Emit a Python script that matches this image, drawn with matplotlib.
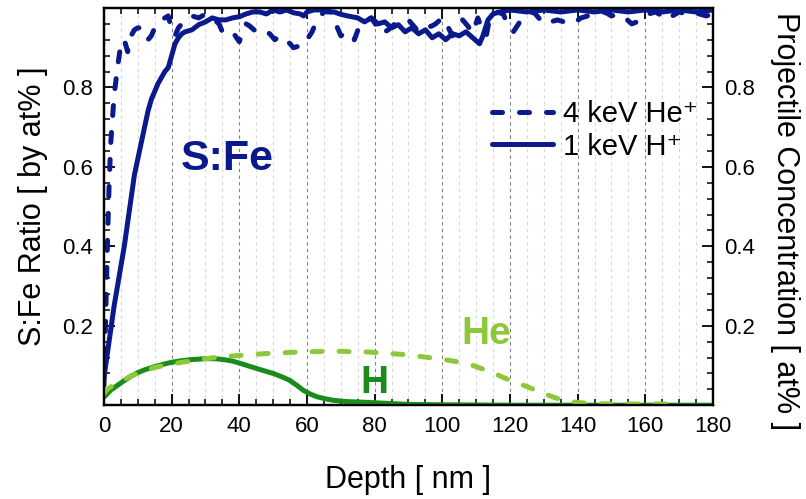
import matplotlib
matplotlib.use("Agg")
import matplotlib.pyplot as plt
from matplotlib.ticker import MultipleLocator, FixedLocator

plt.rcParams['font.family'] = ['Liberation Sans', 'DejaVu Sans']

# ---------------- data ----------------
# S:Fe ratio, 4 keV He+ (dashed navy)
sfe_he_depth = [0, 0.5, 1, 1.5, 2, 3, 4, 5, 6, 7, 8, 9, 10, 11, 12, 13, 14, 15, 16, 17, 18, 19, 20, 21, 22, 24, 26, 28, 30, 32, 34, 35, 36, 38, 40, 41, 42, 43, 45, 47, 49, 50.5, 52, 53, 55, 56, 58, 59, 60, 61.5, 63, 65, 66, 67, 68, 69, 70, 72, 73, 74, 75.5, 77, 79, 81, 82, 84, 86, 88, 90, 91.5, 93, 95, 97, 98, 100, 101.5, 103, 104.5, 106, 107.5, 109, 110.5, 112, 113, 114, 116, 118, 119, 120, 121, 123, 125, 127, 128.5, 130, 132, 134, 136, 138.5, 141, 143, 146, 148, 150, 152, 154, 156, 157.5, 159, 161, 163, 165, 166.5, 168, 170, 172, 174, 176, 178, 180]
sfe_he = [0.05, 0.22, 0.40, 0.55, 0.66, 0.78, 0.85, 0.91, 0.92, 0.89, 0.93, 0.945, 0.95, 0.95, 0.94, 0.92, 0.93, 0.95, 0.96, 0.97, 0.975, 0.98, 0.945, 0.93, 0.95, 0.97, 0.98, 0.975, 0.985, 0.975, 0.96, 0.94, 0.935, 0.94, 0.915, 0.94, 0.96, 0.955, 0.94, 0.945, 0.935, 0.92, 0.93, 0.925, 0.91, 0.90, 0.905, 0.905, 0.92, 0.94, 0.97, 0.99, 0.995, 0.99, 0.97, 0.95, 0.93, 0.94, 0.93, 0.92, 0.955, 0.965, 0.975, 0.95, 0.935, 0.945, 0.96, 0.965, 0.97, 0.955, 0.94, 0.95, 0.955, 0.96, 0.975, 0.955, 0.93, 0.95, 0.97, 0.955, 0.937, 0.975, 0.94, 0.93, 0.975, 0.99, 0.985, 0.965, 0.95, 0.94, 0.966, 0.98, 0.99, 0.975, 0.96, 0.965, 0.97, 0.965, 0.96, 0.975, 0.98, 0.985, 0.99, 0.98, 0.985, 0.975, 0.96, 0.965, 0.97, 0.985, 0.99, 0.98, 0.97, 0.98, 0.99, 0.985, 0.99, 0.985, 0.98, 0.985]

# S:Fe ratio, 1 keV H+ (solid navy)
sfe_h_depth = [0, 1, 2, 3, 4, 5, 6, 7, 8, 9, 10, 11, 12, 13, 14, 15, 16, 17, 18, 19, 20, 21, 22, 23, 24, 26, 28, 30, 32, 34, 36, 38, 40, 42, 44, 46, 48, 50, 52, 54, 56, 58, 59, 60, 62, 64, 66, 68, 70, 72, 75, 77, 79, 81, 83, 85, 87, 89, 91, 93, 95, 97, 99, 101, 103, 105, 107, 109, 111, 112, 113.5, 115, 117, 120, 125, 130, 135, 140, 145, 150, 155, 160, 165, 170, 175, 180]
sfe_h = [0.07, 0.13, 0.19, 0.25, 0.30, 0.35, 0.40, 0.46, 0.52, 0.58, 0.62, 0.66, 0.70, 0.74, 0.77, 0.79, 0.81, 0.825, 0.84, 0.85, 0.88, 0.91, 0.925, 0.935, 0.94, 0.945, 0.958, 0.965, 0.975, 0.97, 0.97, 0.975, 0.978, 0.985, 0.99, 0.99, 0.985, 0.995, 0.99, 0.995, 0.988, 0.985, 0.98, 0.99, 0.995, 0.995, 0.99, 0.99, 0.984, 0.98, 0.975, 0.965, 0.975, 0.96, 0.965, 0.95, 0.958, 0.94, 0.95, 0.935, 0.945, 0.925, 0.935, 0.92, 0.935, 0.93, 0.94, 0.925, 0.91, 0.93, 0.97, 0.985, 0.99, 0.995, 0.99, 0.995, 0.99, 0.995, 0.99, 0.995, 0.99, 0.995, 0.99, 0.995, 0.99, 0.995]

# Projectile concentration, H (solid dark green)
h_depth = [0, 2, 4, 6, 8, 10, 12, 15, 18, 20, 23, 26, 30, 33, 36, 38, 40, 43, 46, 50, 53, 55, 57, 59, 61, 63, 66, 68, 72, 78, 85, 90, 100, 120, 180]
h_conc = [0.02, 0.038, 0.05, 0.062, 0.073, 0.082, 0.089, 0.097, 0.104, 0.108, 0.112, 0.115, 0.117, 0.117, 0.114, 0.111, 0.106, 0.098, 0.09, 0.08, 0.07, 0.062, 0.05, 0.037, 0.028, 0.021, 0.015, 0.012, 0.009, 0.007, 0.004, 0.002, 0.001, 0.0, 0.0]

# Projectile concentration, He (dashed light green)
he_depth = [0, 1, 3, 6, 9, 12, 15, 19, 23, 27, 30, 34, 38, 43, 48, 53, 58, 63, 68, 73, 78, 83, 88, 94, 99, 104, 109, 114, 118, 121, 125, 128, 131, 134, 137, 141, 145, 150, 160, 170]
he_conc = [0.03, 0.04, 0.052, 0.065, 0.077, 0.087, 0.095, 0.102, 0.108, 0.113, 0.117, 0.121, 0.124, 0.127, 0.13, 0.132, 0.134, 0.135, 0.136, 0.135, 0.134, 0.131, 0.128, 0.122, 0.117, 0.11, 0.1, 0.085, 0.07, 0.059, 0.047, 0.036, 0.026, 0.017, 0.01, 0.006, 0.004, 0.003, 0.003, 0.003]

x_ticks = [0, 20, 40, 60, 80, 100, 120, 140, 160, 180]
y_ticks = [0.2, 0.4, 0.6, 0.8]
legend_labels = ['4 keV He⁺', '1 keV H⁺']

NAVY = '#0a1a8c'
DGREEN = '#1b8c1b'
LGREEN = '#8dc83a'

# ---------------- figure ----------------
fig = plt.figure(figsize=(8.06, 4.99), dpi=100)
ax = fig.add_axes([0.129, 0.188, 0.7556, 0.796])
ax2 = ax.twinx()

dash = (2.0, 3.4)
l1, = ax.plot(sfe_he_depth, sfe_he, color=NAVY, lw=3.6, dashes=dash,
              dash_capstyle='round', solid_capstyle='round')
l2, = ax.plot(sfe_h_depth, sfe_h, color=NAVY, lw=3.6, solid_capstyle='round')

ax2.plot(h_depth, h_conc, color=DGREEN, lw=3.6, solid_capstyle='round')
ax2.plot(he_depth, he_conc, color=LGREEN, lw=3.6, dashes=dash, dash_capstyle='round')

for a in (ax, ax2):
    a.set_xlim(0, 180)
    a.set_ylim(0, 1.0)

ax.xaxis.set_major_locator(FixedLocator(x_ticks))
ax.xaxis.set_minor_locator(MultipleLocator(5))
ax.yaxis.set_major_locator(FixedLocator(y_ticks))
ax.yaxis.set_minor_locator(MultipleLocator(0.04))
ax2.yaxis.set_major_locator(FixedLocator(y_ticks))
ax2.yaxis.set_minor_locator(MultipleLocator(0.04))

ax.tick_params(axis='both', which='major', direction='in', length=8, width=1.3,
               labelsize=16, pad=8, top=True, right=False)
ax.tick_params(axis='both', which='minor', direction='in', length=4, width=1.1,
               top=True, right=False)
ax2.tick_params(axis='y', which='major', direction='in', length=8, width=1.3,
                labelsize=16, pad=8)
ax2.tick_params(axis='y', which='minor', direction='in', length=4, width=1.1)

ax.set_yticklabels([f'{v:.1f}' for v in y_ticks])
ax2.set_yticklabels([f'{v:.1f}' for v in y_ticks])

# grid
ax.grid(True, axis='x', which='minor', color='#d8d8d8', lw=0.8, ls=(0, (3, 3)))
ax.grid(True, axis='x', which='major', color='#808080', lw=0.8, ls=(0, (3, 3)))
ax.set_axisbelow(True)

for a in (ax, ax2):
    for s in a.spines.values():
        s.set_linewidth(1.6)

ax.set_xlabel('Depth [ nm ]', fontsize=22, labelpad=20)
ax.set_ylabel('S:Fe Ratio [ by at% ]', fontsize=22, labelpad=10)
ax2.set_ylabel('Projectile Concentration [ at% ]', fontsize=22, rotation=270,
               va='center', ha='center')
ax2.yaxis.set_label_coords(1.118, 0.463)

ax.text(36.5, 0.62, 'S:Fe', color=NAVY, fontsize=31, fontweight='bold',
        ha='center', va='center')
ax2.text(113, 0.18, 'He', color=LGREEN, fontsize=28, fontweight='bold',
         ha='center', va='center')
ax2.text(80, 0.055, 'H', color=DGREEN, fontsize=28, fontweight='bold',
         ha='center', va='center')

leg = ax.legend([l1, l2], legend_labels, loc='upper left',
                bbox_to_anchor=(0.637, 0.768), frameon=False, fontsize=21,
                handlelength=2.1, handletextpad=0.35, labelspacing=0.15,
                borderpad=0, borderaxespad=0)
leg.set_zorder(10)

fig.savefig('out.png', dpi=100)
